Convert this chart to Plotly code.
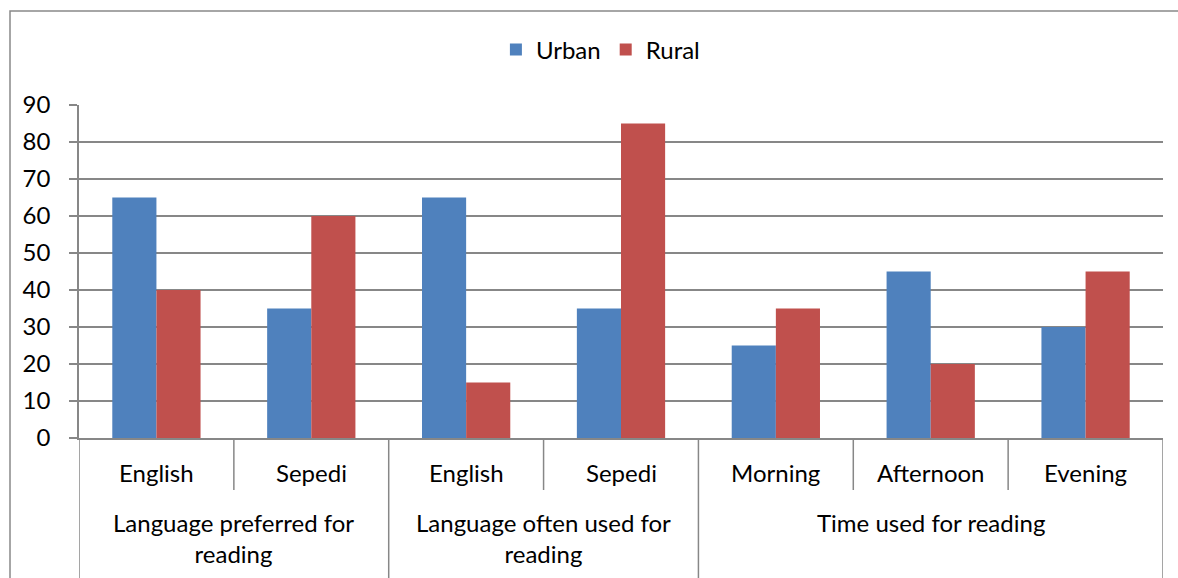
import plotly.graph_objects as go

# ---- data ----
subcats = ["English", "Sepedi", "English", "Sepedi", "Morning", "Afternoon", "Evening"]
groups = ["Language preferred for<br>reading", "Language often used for<br>reading", "Time used for reading"]
group_sizes = [2, 2, 3]
urban = [65, 35, 65, 35, 25, 45, 30]
rural = [40, 60, 15, 85, 35, 20, 45]
y_ticks = [0, 10, 20, 30, 40, 50, 60, 70, 80, 90]

W, H = 1178, 578
ML, MR, MT, MB = 79, 15, 105, 140
PH = H - MT - MB
FONT = "Lato"
FS = 24
GRID = "#878787"

def py(px):  # pixel y -> paper y
    return (H - MB - px) / PH

def pxx(px):
    return (px - ML) / (W - ML - MR)

xs = list(range(len(subcats)))

fig = go.Figure()
fig.add_trace(go.Bar(x=xs, y=urban, name="Urban", marker=dict(color="#4F81BD", line=dict(width=0))))
fig.add_trace(go.Bar(x=xs, y=rural, name="Rural", marker=dict(color="#C0504D", line=dict(width=0))))

shapes = []
annotations = []
# sub-category labels
for i, s in enumerate(subcats):
    annotations.append(dict(x=i, y=py(472), xref="x", yref="paper", text=s, showarrow=False,
                            xanchor="center", yanchor="middle", font=dict(family=FONT, size=FS, color="#000")))
# group boundaries and labels
start = 0
bounds = [-0.5]
for g, n in zip(groups, group_sizes):
    center = start + (n - 1) / 2
    annotations.append(dict(x=center, y=py(506), xref="x", yref="paper", text=g, showarrow=False,
                            xanchor="center", yanchor="top", font=dict(family=FONT, size=FS, color="#000")))
    for k in range(1, n):
        shapes.append(dict(type="line", xref="x", yref="paper", x0=start + k - 0.5, x1=start + k - 0.5,
                           y0=0, y1=py(490), line=dict(color=GRID, width=1.5)))
    start += n
    bounds.append(start - 0.5)
for b in bounds:
    shapes.append(dict(type="line", xref="x", yref="paper", x0=b, x1=b,
                       y0=0, y1=py(600), line=dict(color=GRID, width=1.5)))
# chart border (left + top visible)
shapes.append(dict(type="rect", xref="paper", yref="paper", x0=pxx(10), x1=pxx(1300),
                   y0=py(700), y1=py(11), line=dict(color="#898989", width=1.5)))

fig.update_layout(
    width=W, height=H,
    margin=dict(l=ML, r=MR, t=MT, b=MB),
    plot_bgcolor="white", paper_bgcolor="white",
    barmode="group", bargap=0.43, bargroupgap=0,
    font=dict(family=FONT, size=FS, color="#000"),
    showlegend=True,
    legend=dict(orientation="h", x=0.481, xanchor="center", y=py(50), yanchor="middle",
                font=dict(family=FONT, size=FS), itemwidth=30, traceorder="normal"),
    shapes=shapes, annotations=annotations,
    xaxis=dict(range=[-0.5, 6.5], showticklabels=False, showgrid=False, zeroline=False,
               showline=True, linecolor=GRID, linewidth=1.5, ticks=""),
    yaxis=dict(range=[0, 90], tickvals=y_ticks, showgrid=True, gridcolor=GRID, gridwidth=1.5,
               zeroline=False, showline=True, linecolor=GRID, linewidth=1.5,
               ticks="outside", ticklen=8, tickcolor=GRID, tickwidth=1.5, ticklabelstandoff=14,
               tickfont=dict(family=FONT, size=FS)),
)

fig.write_html("out.html", config={"displayModeBar": False},
               post_script="document.body.style.margin='0';document.body.style.overflow='hidden';")
